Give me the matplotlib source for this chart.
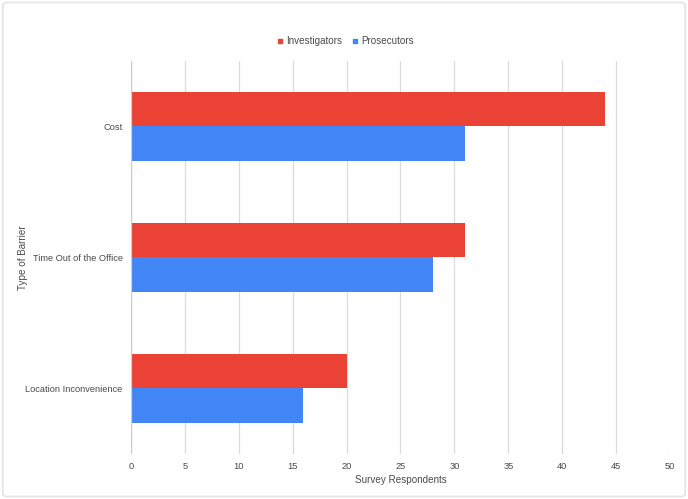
import numpy as np
import matplotlib
matplotlib.use("Agg")
import matplotlib.pyplot as plt
from matplotlib.patches import FancyBboxPatch
from matplotlib.lines import Line2D

# data
barriers = ["Cost", "Time Out of the Office", "Location Inconvenience"]
investigators = [44, 31, 20]
prosecutors = [31, 28, 16]
series_names = ["Investigators", "Prosecutors"]
colors = ["#EA4335", "#4285F4"]

plt.rcParams["font.family"] = ["Liberation Sans", "DejaVu Sans"]
txt = "#4a4a4a"

fig = plt.figure(figsize=(6.88, 4.99), dpi=100)
ax = fig.add_axes([0.1904, 0.0902, 0.7834, 0.7876])

# rounded outer border
fig.patches.append(FancyBboxPatch((0.004, 0.005), 0.992, 0.99,
                                  boxstyle="round,pad=0,rounding_size=0.006",
                                  transform=fig.transFigure, fill=False,
                                  edgecolor="#e4e4e4", linewidth=1.2))

y = np.arange(len(barriers))
h = 0.26
ax.barh(y - h / 2, investigators, height=h, color=colors[0], zorder=3)
ax.barh(y + h / 2, prosecutors, height=h, color=colors[1], zorder=3)

ax.set_xlim(0, 50)
ax.set_ylim(2.5, -0.5)
ax.set_xticks(np.arange(0, 51, 5))
ax.set_yticks(y)
ax.set_yticklabels(barriers)
ax.tick_params(length=0, labelsize=6.7, colors=txt)
ax.tick_params(axis="y", pad=6)
ax.tick_params(axis="x", pad=6)
ax.xaxis.grid(True, color="#dcdcdc", linewidth=0.9, zorder=0)
for s in ax.spines.values():
    s.set_visible(False)
ax.axvline(0, color="#cccccc", linewidth=0.9, zorder=4)

ax.set_xlabel("Survey Respondents", fontsize=7.1, color=txt, labelpad=3)
ax.set_ylabel("Type of Barrier", fontsize=7.1, color=txt)
ax.yaxis.set_label_coords(-0.191, 0.5)

handles = [Line2D([], [], marker="s", linestyle="none", markersize=3.5,
                  color=c) for c in colors]
fig.legend(handles, series_names, loc="center", bbox_to_anchor=(0.502, 0.917),
           ncol=2, frameon=False, fontsize=7.1, labelcolor=txt,
           handlelength=0.6, handletextpad=0.3, columnspacing=1.0)

fig.savefig("out.png", dpi=100, facecolor="white")
